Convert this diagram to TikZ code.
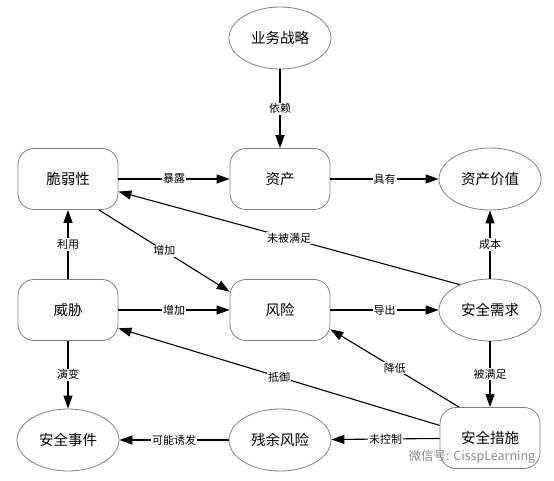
\documentclass[tikz,border=0pt]{standalone}
\usepackage{fontspec}
\setmainfont{Noto Sans CJK SC}
\usetikzlibrary{arrows.meta,shapes.geometric}
\definecolor{FrameGray}{HTML}{7F7F7F}
\definecolor{MarkGray}{HTML}{8A8A8A}

\begin{document}
\begin{tikzpicture}[x=1pt,y=-1pt,
  box/.style={draw=FrameGray,line width=0.8pt,rounded corners=16pt,minimum width=100pt,minimum height=61pt,font=\fontsize{14.5}{16}\selectfont},
  oval/.style={draw=FrameGray,line width=0.8pt,ellipse,minimum width=102pt,minimum height=62pt,inner sep=0pt,font=\fontsize{14.5}{16}\selectfont},
  link/.style={line width=1.1pt,-{Triangle[length=13pt,width=9pt]}},
  tag/.style={fill=white,inner sep=1pt,font=\fontsize{11}{12}\selectfont}]
  \useasboundingbox (0,0) rectangle (554,481);
  \node[oval] (strategy) at (280,38) {业务战略};
  \node[box] (vuln) at (68,179) {脆弱性}; \node[box] (asset) at (280,179) {资产}; \node[oval] (value) at (490,179) {资产价值};
  \node[box] (threat) at (68,310) {威胁}; \node[box] (risk) at (280,310) {风险}; \node[oval] (need) at (490,310) {安全需求};
  \node[oval] (incident) at (68,440) {安全事件}; \node[oval] (residual) at (280,440) {残余风险}; \node[box] (measure) at (490,438) {安全措施};
  % top row
  \draw[link] (strategy) -- node[tag] {依赖} (asset);
  \draw[link] (vuln) -- node[tag] {暴露} (asset);
  \draw[link] (asset) -- node[tag] {具有} (value);
  \draw[link] (need.140) -- node[tag] {未被满足} (vuln.-14);
  \draw[link] (vuln.-45) -- node[tag] {增加} (risk.160);
  % middle row
  \draw[link] (threat) -- node[tag] {利用} (vuln);
  \draw[link] (threat) -- node[tag] {增加} (risk);
  \draw[link] (risk) -- node[tag] {导出} (need);
  \draw[link] (need) -- node[tag] {成本} (value);
  \draw[link] (need) -- node[tag] {被满足} (measure);
  % bottom row
  \draw[link] (threat) -- node[tag] {演变} (incident);
  \draw[link] (measure.166) -- node[tag] {抵御} (threat.-20);
  \draw[link] (measure.135) -- node[tag] {降低} (risk.-21);
  \draw[link] (measure) -- node[tag] {未控制} (residual);
  \draw[link] (residual) -- node[tag] {可能诱发} (incident);
  \node[text=MarkGray,font=\fontsize{12.5}{14}\selectfont,inner sep=0pt] (mark) at (472,457) {微信号: CisspLearning};
\end{tikzpicture}
\end{document}
